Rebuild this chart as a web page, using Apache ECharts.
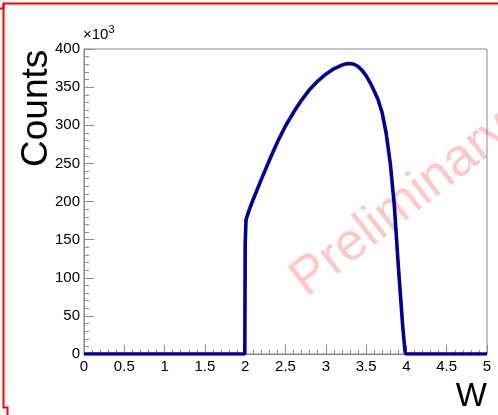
<!DOCTYPE html>
<html><head><meta charset="utf-8">
<script src="https://cdn.jsdelivr.net/npm/echarts@6/dist/echarts.min.js"></script>
<style>html,body{margin:0;padding:0;background:#fff}#c{width:498px;height:415px}</style>
</head><body><div id="c"></div>
<script>
// W values (x) and Counts (in units of 10^3)
const wValues = [0, 1.995, 2.0, 2.01, 2.05, 2.1, 2.2, 2.3, 2.4, 2.5, 2.6, 2.7, 2.8, 2.9, 3.0, 3.1, 3.2, 3.25, 3.3, 3.35, 3.4, 3.45, 3.5, 3.55, 3.6, 3.65, 3.7, 3.75, 3.8, 3.85, 3.9, 3.95, 3.98, 3.99, 5.0];
const counts  = [0, 0, 145, 176, 189, 203, 229, 254, 278, 299, 317, 333, 347, 358, 367, 374, 379, 380.5, 381, 380, 377, 372, 365, 356, 345, 333, 316, 289, 250, 195, 115, 42, 6, 0, 0];
const xTicks = [0, 0.5, 1, 1.5, 2, 2.5, 3, 3.5, 4, 4.5, 5];
const yTicks = [0, 50, 100, 150, 200, 250, 300, 350, 400];
const xTitle = 'W';
const yTitle = 'Counts';
const watermark = 'Preliminary';

const chart = echarts.init(document.getElementById('c'), null, {renderer: 'canvas'});
const FONT = 'Liberation Sans, Arial, Helvetica, sans-serif';
const gray = '#8a8a8a';
const data = wValues.map((x, i) => [x, counts[i]]);

chart.setOption({
  animation: false,
  backgroundColor: '#fff',
  grid: {left: 84, top: 49, width: 403, height: 305, show: true, borderColor: gray, borderWidth: 1, backgroundColor: 'transparent'},
  xAxis: {
    type: 'value', min: xTicks[0], max: xTicks[xTicks.length - 1], interval: 0.5,
    axisLine: {show: true, lineStyle: {color: gray, width: 1}},
    axisTick: {show: true, inside: true, length: 9, lineStyle: {color: gray}},
    minorTick: {show: true, splitNumber: 5, length: 4, lineStyle: {color: gray}},
    splitLine: {show: false}, minorSplitLine: {show: false},
    axisLabel: {color: '#000', fontSize: 15, fontFamily: FONT, margin: 5,
      formatter: v => String(v)}
  },
  yAxis: {
    type: 'value', min: yTicks[0], max: yTicks[yTicks.length - 1], interval: 50,
    axisLine: {show: true, lineStyle: {color: gray, width: 1}},
    axisTick: {show: true, inside: true, length: 10, lineStyle: {color: gray}},
    minorTick: {show: true, splitNumber: 5, length: 5, lineStyle: {color: gray}},
    splitLine: {show: false}, minorSplitLine: {show: false},
    axisLabel: {color: '#000', fontSize: 15, fontFamily: FONT, margin: 4}
  },
  series: [{
    type: 'line', data: data, showSymbol: false, symbol: 'none', smooth: false,
    lineStyle: {color: '#000096', width: 3.6}, z: 3
  }],
  graphic: [
    {type: 'text', x: 83, y: 42, z: 10,
     style: {text: '{a|×10}{b|3}', textVerticalAlign: 'bottom', rich: {a: {fontSize: 15, fontFamily: FONT, fill: '#000', verticalAlign: 'bottom'}, b: {fontSize: 11, fontFamily: FONT, fill: '#000', verticalAlign: 'top', padding: [0, 0, 7, 0]}}}},
    {type: 'text', x: 55, y: 167, rotation: Math.PI / 2, z: 10,
     style: {text: yTitle, fontSize: 37, fontFamily: FONT, fill: '#000', textAlign: 'left', textVerticalAlign: 'bottom'}},
    {type: 'text', x: 487, y: 413, z: 10,
     style: {text: xTitle, fontSize: 33, fontFamily: FONT, fill: '#000', textAlign: 'right', textVerticalAlign: 'bottom'}},
    {type: 'text', x: 402, y: 205, rotation: 38 * Math.PI / 180, z: 1, silent: true,
     style: {text: watermark, fontSize: 53, fontFamily: FONT, fill: 'rgba(255,0,0,0.22)', textAlign: 'center', textVerticalAlign: 'middle'}},
    {type: 'polyline', z: 20, shape: {points: [[0, 8.5], [3.5, 8.5], [3.5, 3.5], [498, 3.5]]}, style: {stroke: '#ff0000', lineWidth: 2, fill: null}},
    {type: 'polyline', z: 20, shape: {points: [[3.5, 3.5], [3.5, 407.5], [7.5, 407.5], [7.5, 415]]}, style: {stroke: '#ff0000', lineWidth: 2, fill: null}}
  ]
});
</script></body></html>
